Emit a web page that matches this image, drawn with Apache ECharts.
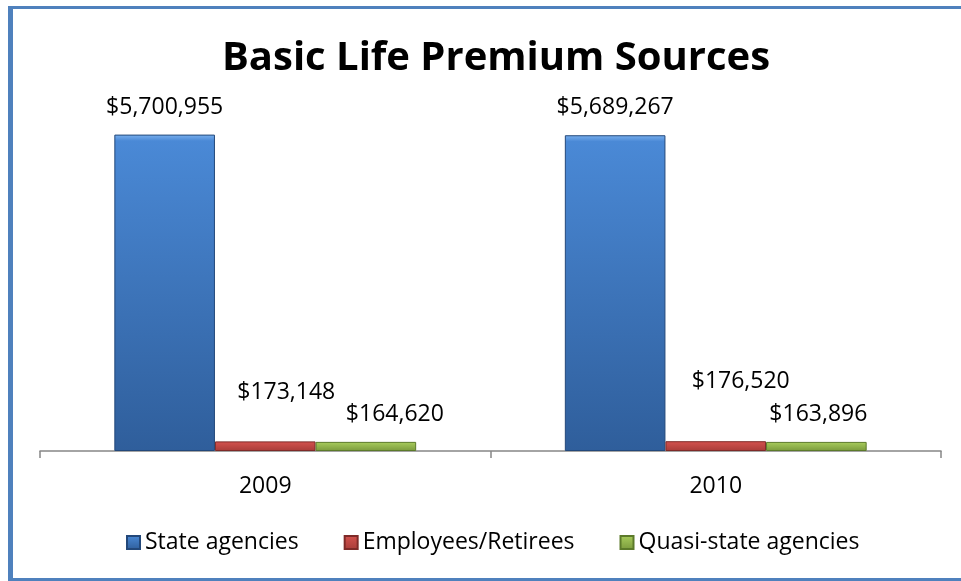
<!DOCTYPE html>
<html>
<head>
<meta charset="utf-8">
<script src="https://cdn.jsdelivr.net/npm/echarts@6/dist/echarts.min.js"></script>
<style>
  html, body { margin: 0; padding: 0; background: #fff; }
  #chart { width: 961px; height: 581px; }
</style>
</head>
<body>
<div id="chart"></div>
<script>
// data
const years = ['2009', '2010'];
const stateAgencies = [5700955, 5689267];
const employeesRetirees = [173148, 176520];
const quasiStateAgencies = [164620, 163896];

// Excel nudged some labels to avoid overlap: [dx, dy] per year
const redLabelShift = [[21, -21], [25, -32]];
const greenLabelShift = [[29, 0], [2, 0]];

const FONT = 'Open Sans';
const FRAME = '#4f81bd';

function money(v) {
  return '$' + v.toLocaleString('en-US');
}

function bevel(top, mid, bottom) {
  return new echarts.graphic.LinearGradient(0, 0, 0, 1, [
    { offset: 0, color: top },
    { offset: 0.02, color: mid },
    { offset: 1, color: bottom }
  ]);
}

function withShift(values, shifts) {
  return values.map((v, i) => ({
    value: v,
    label: { offset: shifts ? shifts[i] : [0, 0] }
  }));
}

function frameLine(x1, y1, x2, y2, w) {
  return {
    type: 'line',
    silent: true,
    shape: { x1, y1, x2, y2 },
    style: { stroke: FRAME, lineWidth: w }
  };
}

const labelStyle = {
  show: true,
  position: 'top',
  distance: 16,
  fontFamily: FONT,
  fontSize: 23,
  color: '#000',
  formatter: p => money(p.value)
};

const option = {
  animation: false,
  backgroundColor: '#fff',
  title: {
    text: 'Basic Life Premium Sources',
    left: 491,
    textAlign: 'center',
    top: 34,
    textStyle: { fontFamily: FONT, fontSize: 40, fontWeight: 'bold', color: '#000' }
  },
  // chart frame: top, left and bottom only (right edge is cut off)
  graphic: [
    frameLine(8, 7.5, 961, 7.5, 3),
    frameLine(10.5, 6, 10.5, 581, 5),
    frameLine(8, 579.5, 961, 579.5, 3)
  ],
  legend: {
    left: 126,
    top: 531,
    padding: 0,
    itemWidth: 13,
    itemHeight: 13,
    itemGap: 45,
    icon: 'rect',
    textStyle: { fontFamily: FONT, fontSize: 23, color: '#000' }
  },
  grid: { left: 40, right: 20, top: 118, bottom: 130 },
  xAxis: {
    type: 'category',
    data: years,
    axisLine: { lineStyle: { color: '#868686', width: 1.5 } },
    axisTick: { show: true, alignWithLabel: false, length: 7, lineStyle: { color: '#868686', width: 1.5 } },
    axisLabel: { fontFamily: FONT, fontSize: 23, color: '#000', margin: 24 }
  },
  yAxis: {
    type: 'value',
    min: 0,
    max: 6000000,
    show: false,
    splitLine: { show: false }
  },
  series: [
    {
      name: 'State agencies',
      type: 'bar',
      barCategoryGap: '33%',
      barGap: '0%',
      data: withShift(stateAgencies),
      itemStyle: {
        color: bevel('#7ab0ee', '#4a89d6', '#2f5e9b'),
        borderColor: '#23487a',
        borderWidth: 1
      },
      label: labelStyle
    },
    {
      name: 'Employees/Retirees',
      type: 'bar',
      data: withShift(employeesRetirees, redLabelShift),
      itemStyle: {
        color: bevel('#f08a86', '#d4524e', '#a83c39'),
        borderColor: '#7e2a28',
        borderWidth: 1
      },
      label: labelStyle
    },
    {
      name: 'Quasi-state agencies',
      type: 'bar',
      data: withShift(quasiStateAgencies, greenLabelShift),
      itemStyle: {
        color: bevel('#dff59a', '#a8cc5c', '#7a9a3c'),
        borderColor: '#5c7a2a',
        borderWidth: 1
      },
      label: labelStyle
    }
  ]
};

const myChart = echarts.init(document.getElementById('chart'));
myChart.setOption(option);
window.addEventListener('resize', () => myChart.resize());
</script>
</body>
</html>
